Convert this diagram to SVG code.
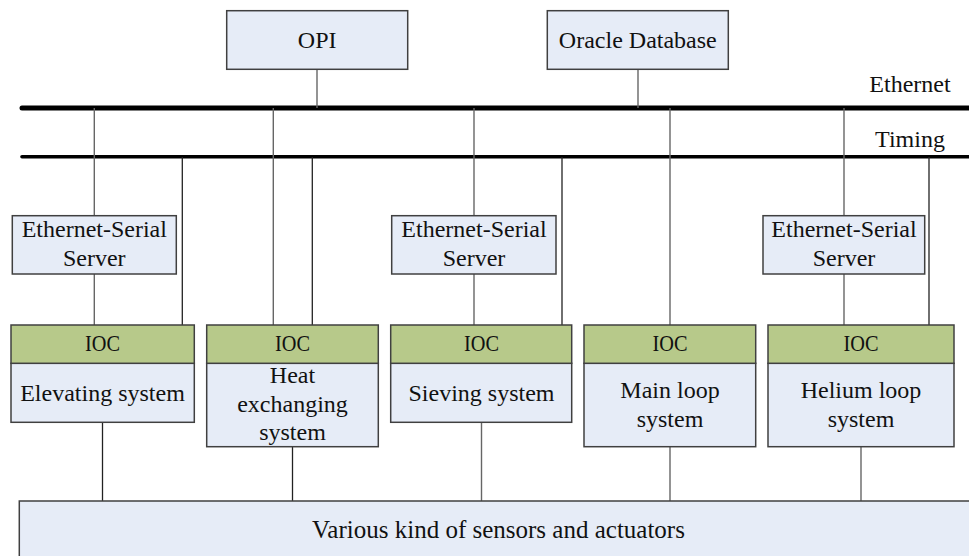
<svg xmlns="http://www.w3.org/2000/svg" width="969" height="556" viewBox="0 0 969 556">
  <style>
    .box { fill: #e6ecf7; stroke: #404040; stroke-width: 1.5; }
    .hdr { fill: #b7c98a; stroke: #404040; stroke-width: 1.5; }
    .t { font-family: "Liberation Serif", "Times New Roman", serif; font-size: 24px; fill: #111; text-anchor: middle; }
    .ioc { font-family: "Liberation Serif", "Times New Roman", serif; font-size: 23px; fill: #111; text-anchor: middle; }
    .bus { stroke: #000; fill: none; stroke-linecap: round; }
    .eth { stroke: #666; stroke-width: 1.4; fill: none; }
    .tim { stroke: #222; stroke-width: 1.3; fill: none; }
  </style>
  <rect width="969" height="556" fill="#fff"/>

  <g id="connectors">
    <!-- buses -->
    <line class="bus" x1="22" y1="108" x2="975" y2="108" stroke-width="5"/>
    <line class="bus" x1="22" y1="156.7" x2="975" y2="156.7" stroke-width="3.6"/>
    <!-- servers to ethernet -->
    <line class="eth" x1="317" y1="69" x2="317" y2="108"/>
    <line class="eth" x1="638" y1="69" x2="638" y2="108"/>
    <!-- ethernet drops -->
    <line class="eth" x1="94.3" y1="108" x2="94.3" y2="215.7"/>
    <line class="eth" x1="273.3" y1="108" x2="273.3" y2="325"/>
    <line class="eth" x1="474" y1="108" x2="474" y2="215.7"/>
    <line class="eth" x1="670" y1="108" x2="670" y2="325"/>
    <line class="eth" x1="844" y1="108" x2="844" y2="215.7"/>
    <!-- timing drops -->
    <line class="tim" x1="182.3" y1="157" x2="182.3" y2="325"/>
    <line class="tim" x1="312.3" y1="157" x2="312.3" y2="325"/>
    <line class="tim" x1="562" y1="157" x2="562" y2="325"/>
    <line class="tim" x1="929" y1="157" x2="929" y2="325"/>
    <!-- serial servers to IOCs -->
    <line class="eth" x1="94.3" y1="274" x2="94.3" y2="325"/>
    <line class="eth" x1="474" y1="274" x2="474" y2="325"/>
    <line class="eth" x1="844" y1="274" x2="844" y2="325"/>
    <!-- IOCs to field devices -->
    <line class="tim" x1="102.5" y1="422" x2="102.5" y2="501"/>
    <line class="tim" x1="292.5" y1="447" x2="292.5" y2="501"/>
    <line class="eth" x1="481.5" y1="422" x2="481.5" y2="501"/>
    <line class="eth" x1="670" y1="447" x2="670" y2="501"/>
    <line class="eth" x1="861" y1="447" x2="861" y2="501"/>
  </g>

  <g id="bus-labels">
    <text class="t" x="910" y="91.7">Ethernet</text>
    <text class="t" x="910" y="146.7">Timing</text>
  </g>

  <g id="opi">
    <rect class="box" x="226.7" y="10.7" width="181" height="58.6"/>
    <text class="t" x="317.2" y="47.7">OPI</text>
  </g>
  <g id="oracle">
    <rect class="box" x="547.3" y="10.7" width="181" height="58.6"/>
    <text class="t" x="637.8" y="47.7">Oracle Database</text>
  </g>

  <g id="ess1">
    <rect class="box" x="12.3" y="215.7" width="164" height="58.3"/>
    <text class="t" x="94.3" y="236.7">Ethernet-Serial</text>
    <text class="t" x="94.3" y="266">Server</text>
  </g>
  <g id="ess2">
    <rect class="box" x="391.7" y="215.7" width="164.3" height="58.3"/>
    <text class="t" x="474" y="236.7">Ethernet-Serial</text>
    <text class="t" x="474" y="266">Server</text>
  </g>
  <g id="ess3">
    <rect class="box" x="763" y="215.7" width="161.7" height="58.3"/>
    <text class="t" x="844" y="236.7">Ethernet-Serial</text>
    <text class="t" x="844" y="266">Server</text>
  </g>

  <g id="ioc-elevating">
    <rect class="box" x="11" y="363.3" width="183.3" height="59"/>
    <rect class="hdr" x="11" y="325" width="183.3" height="38.3"/>
    <text class="ioc" x="102.5" y="350.7" textLength="35" lengthAdjust="spacingAndGlyphs">IOC</text>
    <text class="t" x="102.5" y="400.7">Elevating system</text>
  </g>
  <g id="ioc-heat">
    <rect class="box" x="206.7" y="363.3" width="171.6" height="83.4"/>
    <rect class="hdr" x="206.7" y="325" width="171.6" height="38.3"/>
    <text class="ioc" x="292.5" y="350.7" textLength="35" lengthAdjust="spacingAndGlyphs">IOC</text>
    <text class="t" x="292.5" y="382.7">Heat</text>
    <text class="t" x="292.5" y="412">exchanging</text>
    <text class="t" x="292.5" y="440">system</text>
  </g>
  <g id="ioc-sieving">
    <rect class="box" x="390.7" y="363.3" width="181" height="59"/>
    <rect class="hdr" x="390.7" y="325" width="181" height="38.3"/>
    <text class="ioc" x="481.5" y="350.7" textLength="35" lengthAdjust="spacingAndGlyphs">IOC</text>
    <text class="t" x="481.5" y="400.7">Sieving system</text>
  </g>
  <g id="ioc-mainloop">
    <rect class="box" x="584" y="363.3" width="171.7" height="83.4"/>
    <rect class="hdr" x="584" y="325" width="171.7" height="38.3"/>
    <text class="ioc" x="670" y="350.7" textLength="35" lengthAdjust="spacingAndGlyphs">IOC</text>
    <text class="t" x="670" y="398.3">Main loop</text>
    <text class="t" x="670" y="426.7">system</text>
  </g>
  <g id="ioc-helium">
    <rect class="box" x="768" y="363.3" width="186" height="83.4"/>
    <rect class="hdr" x="768" y="325" width="186" height="38.3"/>
    <text class="ioc" x="861" y="350.7" textLength="35" lengthAdjust="spacingAndGlyphs">IOC</text>
    <text class="t" x="861" y="398.3">Helium loop</text>
    <text class="t" x="861" y="426.7">system</text>
  </g>

  <g id="field-devices">
    <rect class="box" x="19.3" y="501" width="960" height="70"/>
    <text class="t" x="498.5" y="538.3" style="font-size:25px">Various kind of sensors and actuators</text>
  </g>
</svg>
